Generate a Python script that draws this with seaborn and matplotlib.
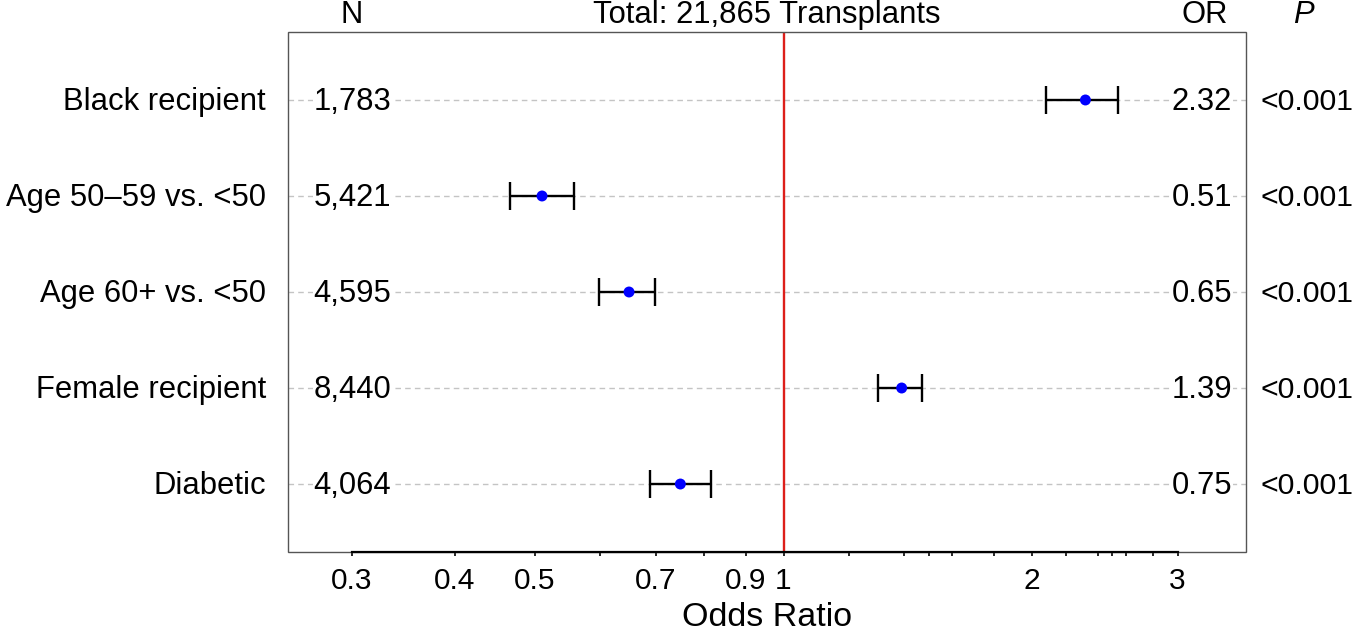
import numpy as np
import pandas as pd
import matplotlib
matplotlib.use("Agg")
import matplotlib.pyplot as plt
import matplotlib.patches as mpatches
import matplotlib.ticker as mticker
import seaborn as sns

# ---- data ----
labels = ["Black recipient", "Age 50\u201359 vs. <50", "Age 60+ vs. <50", "Female recipient", "Diabetic"]
n_values = ["1,783", "5,421", "4,595", "8,440", "4,064"]
or_values = [2.32, 0.51, 0.65, 1.39, 0.75]
ci_low = [2.08, 0.467, 0.597, 1.30, 0.690]
ci_high = [2.54, 0.558, 0.699, 1.473, 0.818]
or_labels = ["2.32", "0.51", "0.65", "1.39", "0.75"]
p_labels = ["<0.001", "<0.001", "<0.001", "<0.001", "<0.001"]
title_text = "Total: 21,865 Transplants"
major_ticks = [0.3, 0.4, 0.5, 0.7, 0.9, 1, 2, 3]
major_tick_labels = ["0.3", "0.4", "0.5", "0.7", "0.9", "1", "2", "3"]
minor_ticks = [0.6, 0.8, 1.2, 1.4, 1.5, 1.6, 1.8, 2.2, 2.4, 2.5, 2.6, 2.8]

df = pd.DataFrame({"label": labels, "OR": or_values, "lo": ci_low, "hi": ci_high,
                   "pos": np.arange(len(labels))})

sns.set_theme(style="white")
plt.rcParams["font.family"] = ["Liberation Sans", "DejaVu Sans"]
plt.rcParams["text.color"] = "black"
plt.rcParams["axes.labelcolor"] = "black"
plt.rcParams["xtick.color"] = "black"
plt.rcParams["xtick.labelcolor"] = "black"

W, H = 1354, 632
fig = plt.figure(figsize=(W / 100, H / 100), dpi=100)
ax = fig.add_axes([288 / W, (H - 552) / H, (1246 - 288) / W, (552 - 32) / H])

ax.set_xscale("log")
ax.set_xlim(0.2512, 3.63)
ax.set_ylim(4.708, -0.708)

# dashed guide lines per row
for p in df["pos"]:
    ax.axhline(p, color="#c4c4c4", lw=1.0, ls=(0, (4, 3)), zorder=1)

# reference line
ax.axvline(1, color="#DD1F1A", lw=1.7, zorder=2)

# error bars
ax.errorbar(df["OR"], df["pos"],
            xerr=[df["OR"] - df["lo"], df["hi"] - df["OR"]],
            fmt="none", ecolor="black", elinewidth=1.7, capsize=10, capthick=1.7, zorder=3)
sns.scatterplot(data=df, x="OR", y="pos", color="#0000FF", s=62, edgecolor="none",
                zorder=4, ax=ax, legend=False)

# box + axis
for s in ["left", "right", "top"]:
    ax.spines[s].set_visible(False)
ax.add_patch(mpatches.Rectangle((0, 0), 1, 1, transform=ax.transAxes, fill=False,
                                edgecolor="#555555", lw=1.0, zorder=5, clip_on=False))
ax.spines["bottom"].set_bounds(0.3, 3)
ax.spines["bottom"].set_color("black")
ax.spines["bottom"].set_linewidth(1.6)
ax.spines["bottom"].set_zorder(6)

ax.xaxis.set_major_locator(mticker.FixedLocator(major_ticks))
ax.xaxis.set_major_formatter(mticker.FixedFormatter(major_tick_labels))
ax.xaxis.set_minor_locator(mticker.FixedLocator(minor_ticks))
ax.xaxis.set_minor_formatter(mticker.NullFormatter())
ax.tick_params(axis="x", which="both", direction="out", length=3, width=1.2,
               color="black", labelcolor="black", bottom=True, labelsize=21.5, pad=8)
ax.set_yticks([])
ax.set_ylabel("")
ax.set_xlabel("Odds Ratio", fontsize=24.5, labelpad=5, color="black")

# text columns
fs = 22.3
off = 0.104
trans = ax.get_yaxis_transform()
bbox = dict(facecolor="white", edgecolor="none", pad=0.5)
for i in range(len(labels)):
    ax.text(-0.023, i + off, labels[i], transform=trans, ha="right", va="baseline",
            fontsize=fs, color="black", clip_on=False)
    ax.text(0.1075, i + off, n_values[i], transform=trans, ha="right", va="baseline",
            fontsize=fs, color="black", bbox=bbox, zorder=3)
    ax.text(0.9854, i + off, or_labels[i], transform=trans, ha="right", va="baseline",
            fontsize=fs, color="black", bbox=bbox, zorder=3)
    ax.text(1.0150, i + off, p_labels[i], transform=trans, ha="left", va="baseline",
            fontsize=21.8, color="black", clip_on=False)

hy = 1 - 23 / H
fig.text(352 / W, hy, "N", ha="center", va="baseline", fontsize=fs, color="black")
fig.text(767 / W, hy, title_text, ha="center", va="baseline", fontsize=fs, color="black")
fig.text(1204.5 / W, hy, "OR", ha="center", va="baseline", fontsize=fs, color="black")
fig.text(1303 / W, hy, "P", ha="center", va="baseline", fontsize=fs, style="italic",
         color="black")

fig.savefig("out.png", dpi=100)
